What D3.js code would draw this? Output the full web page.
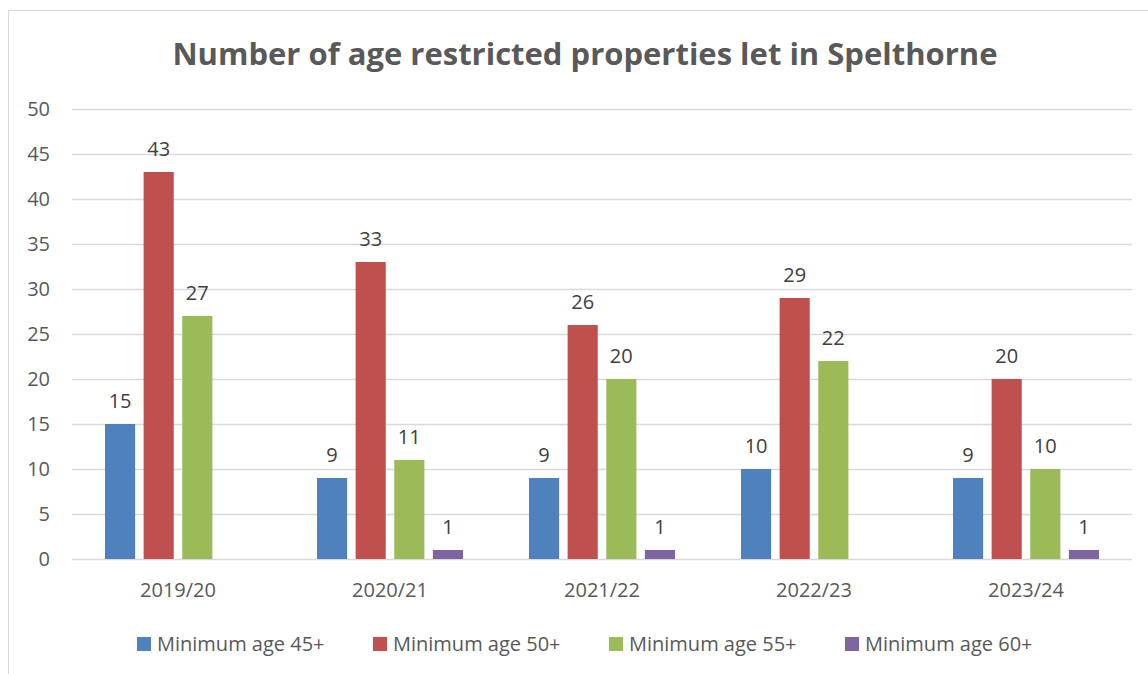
<html>
<head>
  <title>Number of age restricted properties let in Spelthorne</title>
  <meta charset="utf-8" />
  <style type="text/css">
    body { margin: 0; background: white; }
    svg { font-family: "Open Sans", sans-serif; }
  </style>
  <script src="https://d3js.org/d3.v7.min.js"></script>
</head>
<body>
  <svg id="chart" width="1148" height="674"></svg>

<script>
  var years = ["2019/20", "2020/21", "2021/22", "2022/23", "2023/24"];
  var seriesNames = ["Minimum age 45+", "Minimum age 50+", "Minimum age 55+", "Minimum age 60+"];
  var age45 = [15, 9, 9, 10, 9];
  var age50 = [43, 33, 26, 29, 20];
  var age55 = [27, 11, 20, 22, 10];
  var age60 = [0, 1, 1, 0, 1];
  var colours = ["#4F81BD", "#C0504D", "#9BBB59", "#8064A2"];
  var yTicks = [0, 5, 10, 15, 20, 25, 30, 35, 40, 45, 50];

  var allSeries = [age45, age50, age55, age60];

  var svg = d3.select("#chart");
  var textCol = "#595959";

  // chart frame
  svg.append("rect")
    .attr("x", 8.5).attr("y", 10.5)
    .attr("width", 1150).attr("height", 680)
    .style("fill", "white")
    .style("stroke", "#d9d9d9");

  svg.append("text")
    .attr("x", 585).attr("y", 65)
    .attr("text-anchor", "middle")
    .style("font-size", "31px")
    .style("font-weight", "bold")
    .style("fill", textCol)
    .text("Number of age restricted properties let in Spelthorne");

  var y = d3.scaleLinear().domain([0, 50]).range([559, 109]);
  var x0 = d3.scaleBand().domain(years).range([72, 1132]);
  var x1 = d3.scaleBand().domain(d3.range(4))
    .range([33, x0.bandwidth() - 33])
    .paddingInner(0.22);

  // gridlines
  svg.append("g").selectAll("line")
    .data(yTicks)
    .enter().append("line")
    .attr("x1", 72).attr("x2", 1132)
    .attr("y1", function (d) { return Math.round(y(d)) + 0.5 })
    .attr("y2", function (d) { return Math.round(y(d)) + 0.5 })
    .style("stroke", "#d9d9d9")
    .style("stroke-width", 1.5);

  svg.append("g").selectAll("text")
    .data(yTicks)
    .enter().append("text")
    .attr("x", 50)
    .attr("y", function (d) { return y(d) + 7 })
    .attr("text-anchor", "end")
    .style("font-size", "20px")
    .style("fill", textCol)
    .text(function (d) { return d });

  // bars
  var groups = svg.append("g").selectAll("g")
    .data(years)
    .enter().append("g")
    .attr("transform", function (d) { return "translate(" + x0(d) + ",0)" });

  var cells = groups.selectAll("g")
    .data(function (d, i) {
      return allSeries.map(function (s, k) { return { k: k, v: s[i] } });
    })
    .enter().append("g");

  cells.append("rect")
    .attr("x", function (d) { return x1(d.k) })
    .attr("width", x1.bandwidth())
    .attr("y", function (d) { return y(d.v) })
    .attr("height", function (d) { return y(0) - y(d.v) })
    .style("fill", function (d) { return colours[d.k] });

  cells.filter(function (d) { return d.v > 0 })
    .append("text")
    .attr("x", function (d) { return x1(d.k) + x1.bandwidth() / 2 })
    .attr("y", function (d) { return y(d.v) - 16 })
    .attr("text-anchor", "middle")
    .style("font-size", "20px")
    .style("fill", "#404040")
    .text(function (d) { return d.v });

  // category labels
  svg.append("g").selectAll("text")
    .data(years)
    .enter().append("text")
    .attr("x", function (d) { return x0(d) + x0.bandwidth() / 2 })
    .attr("y", 597)
    .attr("text-anchor", "middle")
    .style("font-size", "20px")
    .style("fill", textCol)
    .text(function (d) { return d });

  // legend
  var legendX = [137, 373, 609, 845];
  var legend = svg.append("g").selectAll("g")
    .data(seriesNames)
    .enter().append("g")
    .attr("transform", function (d, i) { return "translate(" + legendX[i] + ",637)" });

  legend.append("rect")
    .attr("width", 14).attr("height", 14)
    .style("fill", function (d, i) { return colours[i] });

  legend.append("text")
    .attr("x", 20).attr("y", 14)
    .style("font-size", "20px")
    .style("fill", textCol)
    .text(function (d) { return d });
</script>
</body>
</html>
